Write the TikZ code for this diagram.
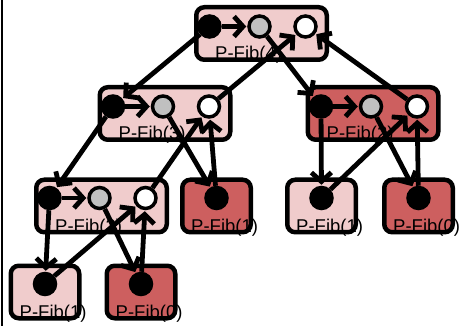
\documentclass[tikz,border=0pt]{standalone}
\usepackage{fontspec}
\setmainfont{Liberation Sans}
\usepackage{xcolor}
\usetikzlibrary{arrows.meta, positioning}

\definecolor{boxlight}{HTML}{F0CCCC}
\definecolor{boxdark}{HTML}{CD5F5F}
\definecolor{callgrey}{HTML}{C0C0C0}

\begin{document}
\begin{tikzpicture}[
  x=1pt, y=-1pt,
  fibbox/.style={draw, rounded corners=8pt, line width=4.5pt, inner sep=0pt, minimum width=130.5pt, minimum height=52.5pt},
  leafbox/.style={fibbox, minimum width=68.5pt},
  light/.style={fill=boxlight},
  dark/.style={fill=boxdark},
  strand/.style={circle, draw, line width=3.5pt, minimum size=21pt, inner sep=0pt},
  spawn/.style={strand, fill=black},
  call/.style={strand, fill=callgrey},
  sync/.style={strand, fill=white},
  lbl/.style={font=\fontsize{18.5}{18.5}\selectfont, anchor=base west, inner sep=0pt},
  edge/.style={line width=4.8pt, -{Straight Barb[length=9pt, width=20pt]}, shorten >=1pt}
]
\useasboundingbox (0,0) rectangle (461,326);
\draw[line width=2.5pt] (2,0) -- (2,326);

% procedure frames
\node[fibbox, light] (f4) at (261.5,33.5) {};
\node[fibbox, light] (f3) at (165,113.5) {};
\node[fibbox, dark] (f2b) at (373,113.5) {};
\node[fibbox, light] (f2a) at (101.5,206) {};
\node[leafbox, dark] (f1a) at (216.5,206) {};
\node[leafbox, light] (f1b) at (321.5,206) {};
\node[leafbox, dark] (f0a) at (418.5,206) {};
\node[leafbox, light] (f1c) at (45,292) {};
\node[leafbox, dark] (f0b) at (141,292) {};

\node[lbl] (f4l) at ([xshift=21pt, yshift=2pt]f4.south west) {P-Fib(4)};
\node[lbl] (f3l) at ([xshift=21pt, yshift=2pt]f3.south west) {P-Fib(3)};
\node[lbl] (f2bl) at ([xshift=21pt, yshift=2pt]f2b.south west) {P-Fib(2)};
\node[lbl] (f2al) at ([xshift=21pt, yshift=2pt]f2a.south west) {P-Fib(2)};
\node[lbl] (f1al) at ([xshift=11pt, yshift=2pt]f1a.south west) {P-Fib(1)};
\node[lbl] (f1bl) at ([xshift=11pt, yshift=2pt]f1b.south west) {P-Fib(1)};
\node[lbl] (f0al) at ([xshift=11pt, yshift=2pt]f0a.south west) {P-Fib(0)};
\node[lbl] (f1cl) at ([xshift=11pt, yshift=2pt]f1c.south west) {P-Fib(1)};
\node[lbl] (f0bl) at ([xshift=11pt, yshift=2pt]f0b.south west) {P-Fib(0)};

% strands: spawn, call, sync
\node[spawn] (f4s) at ([xshift=-52pt, yshift=7pt]f4.center) {};
\node[call, right=25.5pt of f4s] (f4c) {};
\node[sync, right=21.5pt of f4c] (f4w) {};
\node[spawn] (f3s) at ([xshift=-52pt, yshift=7pt]f3.center) {};
\node[call, right=25.5pt of f3s] (f3c) {};
\node[sync, right=21.5pt of f3c] (f3w) {};
\node[spawn] (f2bs) at ([xshift=-52pt, yshift=7pt]f2b.center) {};
\node[call, right=25.5pt of f2bs] (f2bc) {};
\node[sync, right=21.5pt of f2bc] (f2bw) {};
\node[spawn] (f2as) at ([xshift=-52pt, yshift=8pt]f2a.center) {};
\node[call, right=25.5pt of f2as] (f2ac) {};
\node[sync, right=21.5pt of f2ac] (f2aw) {};
\node[spawn] (f1as) at ([yshift=8pt]f1a.center) {};
\node[spawn] (f1bs) at ([yshift=8pt]f1b.center) {};
\node[spawn] (f0as) at ([yshift=8pt]f0a.center) {};
\node[spawn] (f1cs) at ([yshift=8pt]f1c.center) {};
\node[spawn] (f0bs) at ([yshift=8pt]f0b.center) {};

% continue edges
\draw[edge] (f4s) -- (f4c);
\draw[edge] (f3s) -- (f3c);
\draw[edge] (f2bs) -- (f2bc);
\draw[edge] (f2as) -- (f2ac);

% spawn and call edges
\draw[edge] (f4s) -- (f3s);
\draw[edge] (f4c) -- (f2bs);
\draw[edge] (f3s) -- (f2as);
\draw[edge] (f3c) -- (f1as);
\draw[edge] (f2bs) -- (f1bs);
\draw[edge] (f2bc) -- (f0as);
\draw[edge] (f2as) -- (f1cs);
\draw[edge] (f2ac) -- (f0bs);

% return edges
\draw[edge] (f3w) -- (f4w);
\draw[edge] (f2bw) -- (f4w);
\draw[edge] (f2aw) -- (f3w);
\draw[edge] (f1as) -- (f3w);
\draw[edge] (f1bs) -- (f2bw);
\draw[edge] (f0as) -- (f2bw);
\draw[edge] (f1cs) -- (f2aw);
\draw[edge] (f0bs) -- (f2aw);
\end{tikzpicture}
\end{document}
